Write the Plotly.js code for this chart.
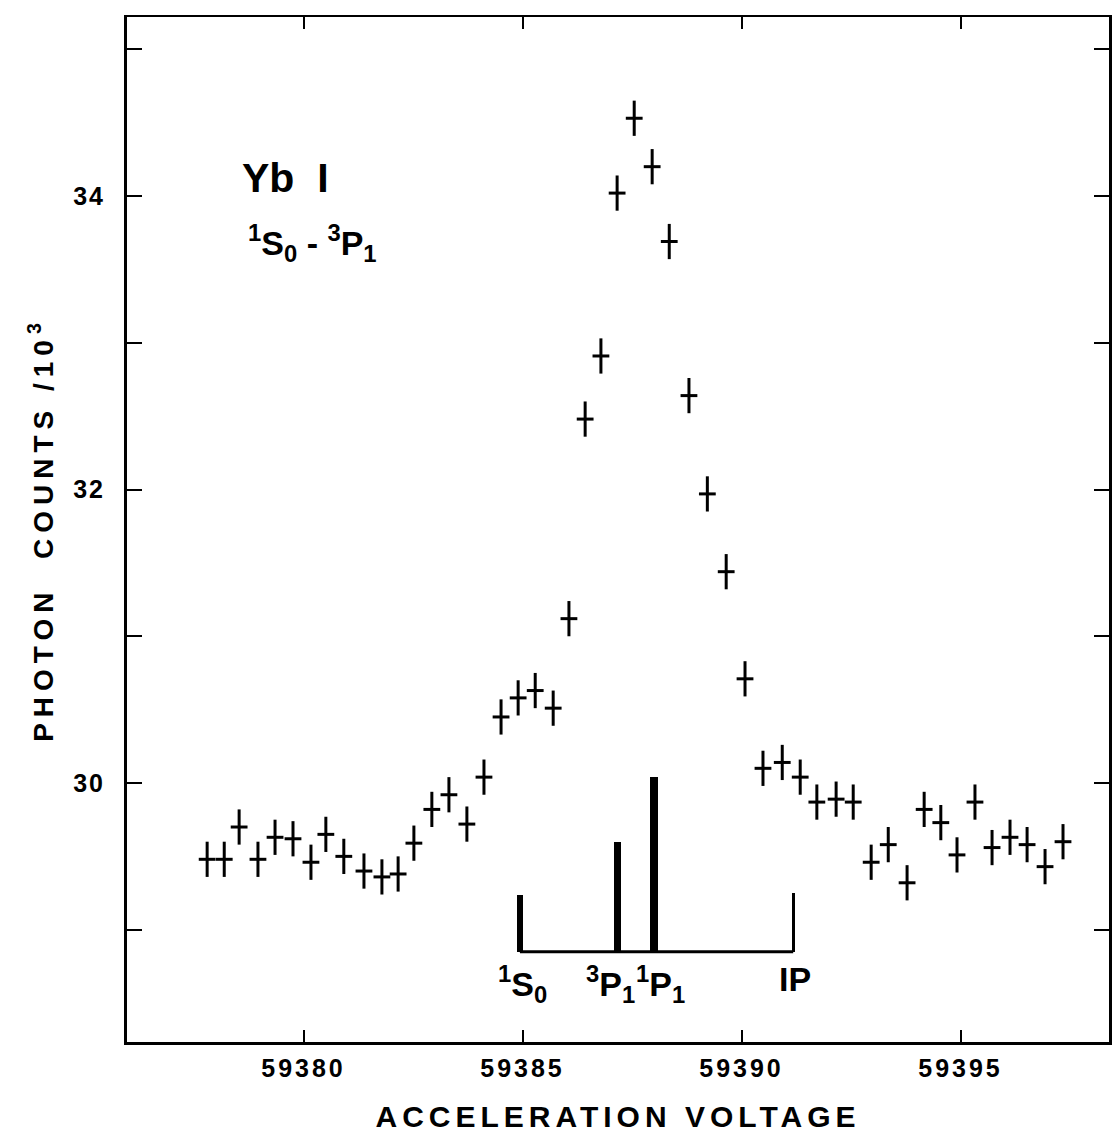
<!DOCTYPE html>
<html>
<head>
<meta charset="utf-8">
<script src="https://cdn.plot.ly/plotly-3.0.1.min.js"></script>
<style>
  html, body { margin: 0; padding: 0; background: #fff; }
  #chart { width: 1112px; height: 1136px; }
  .xtick text { letter-spacing: 3px; }
  .ytick text { letter-spacing: 2px; }
  .xtitle { letter-spacing: 5px; }
  .ytitle { letter-spacing: 6px; }
</style>
</head>
<body>
<div id="chart"></div>
<script>
// ---- data ----
const voltage = [
  59377.80, 59378.19, 59378.53, 59378.96, 59379.35, 59379.76, 59380.17, 59380.51, 59380.92, 59381.38,
  59381.79, 59382.16, 59382.52, 59382.93, 59383.32, 59383.73, 59384.12, 59384.51, 59384.90, 59385.29,
  59385.70, 59386.06, 59386.43, 59386.79, 59387.16, 59387.55, 59387.96, 59388.35, 59388.80, 59389.22,
  59389.65, 59390.08, 59390.49, 59390.93, 59391.34, 59391.72, 59392.16, 59392.55, 59392.96, 59393.35,
  59393.78, 59394.17, 59394.55, 59394.92, 59395.33, 59395.72, 59396.13, 59396.52, 59396.93, 59397.34
];
const counts = [
  29.48, 29.48, 29.70, 29.48, 29.63, 29.62, 29.46, 29.65, 29.50, 29.40,
  29.36, 29.38, 29.59, 29.82, 29.92, 29.72, 30.04, 30.45, 30.58, 30.63,
  30.51, 31.12, 32.48, 32.91, 34.02, 34.53, 34.20, 33.69, 32.64, 31.97,
  31.44, 30.71, 30.10, 30.14, 30.04, 29.87, 29.89, 29.87, 29.46, 29.58,
  29.32, 29.82, 29.73, 29.51, 29.87, 29.56, 29.63, 29.58, 29.43, 29.60
];
const countError = 0.12;

const xTickVals = [59380, 59385, 59390, 59395];
const xTickText = ['59380', '59385', '59390', '59395'];
const yTickVals = [30, 32, 34];
const yTickText = ['30', '32', '34'];

// energy-level diagram
const levelNames = ['<sup>1</sup>S<sub>0</sub>', '<sup>3</sup>P<sub>1</sub>', '<sup>1</sup>P<sub>1</sub>', 'IP'];
const levelVoltage = [59384.94, 59387.16, 59388.00, 59391.18];
const levelTop = [29.24, 29.60, 30.04, 29.25];
const levelBase = 28.85;
const levelLabelX = [59385.01, 59387.02, 59388.16, 59391.22];

// ---- styles ----
const FONT = 'Liberation Sans, Arial, Helvetica, sans-serif';
const barWidthsV = [0.137, 0.16, 0.183, 0.06];

const traces = [
  {
    type: 'scatter', mode: 'markers',
    x: voltage, y: counts,
    marker: { symbol: 'line-ew', size: 12, color: 'black', line: { width: 3, color: 'black' } },
    error_y: { type: 'constant', value: countError, thickness: 3, width: 0, color: 'black' },
    hoverinfo: 'x+y'
  },
  {
    type: 'bar',
    x: levelVoltage,
    y: levelTop.map(t => t - levelBase),
    base: levelBase,
    width: barWidthsV,
    marker: { color: 'black', line: { width: 0 } },
    hoverinfo: 'x'
  },
  {
    type: 'scatter', mode: 'lines',
    x: [levelVoltage[0], levelVoltage[levelVoltage.length - 1]],
    y: [levelBase, levelBase],
    line: { color: 'black', width: 3 },
    hoverinfo: 'skip'
  }
];

const annotations = levelNames.map((name, i) => ({
  x: levelLabelX[i], y: levelBase, xref: 'x', yref: 'y',
  text: name, showarrow: false, xanchor: 'center', yanchor: 'top', yshift: -6,
  font: { family: FONT, size: 34, weight: 'bold', color: 'black' }
}));
annotations.push({
  x: 59378.55, y: 34.12, xref: 'x', yref: 'y', text: 'Yb\u00a0\u00a0I', showarrow: false,
  xanchor: 'left', yanchor: 'middle',
  font: { family: FONT, size: 41, weight: 'bold', color: 'black' }
});
annotations.push({
  x: 59378.68, y: 33.68, xref: 'x', yref: 'y',
  text: '<sup>1</sup>S<sub>0</sub> - <sup>3</sup>P<sub>1</sub>', showarrow: false,
  xanchor: 'left', yanchor: 'middle',
  font: { family: FONT, size: 34, weight: 'bold', color: 'black' }
});

const layout = {
  width: 1112, height: 1136,
  margin: { l: 127, r: 3, t: 17, b: 94 },
  paper_bgcolor: 'white', plot_bgcolor: 'white',
  showlegend: false,
  bargap: 0,
  xaxis: {
    range: [59375.97, 59398.39],
    tickmode: 'array', tickvals: xTickVals, ticktext: xTickText,
    ticks: 'inside', ticklen: 12, tickwidth: 2, tickcolor: 'black',
    showline: true, linewidth: 2.5, linecolor: 'black', mirror: 'ticks',
    showgrid: false, zeroline: false,
    ticklabelstandoff: 2,
    tickfont: { family: FONT, size: 25, weight: 'bold', color: 'black' },
    title: { text: 'ACCELERATION VOLTAGE', standoff: 26,
             font: { family: FONT, size: 30, weight: 'bold', color: 'black' } }
  },
  yaxis: {
    range: [28.235, 35.22],
    tickmode: 'array', tickvals: yTickVals, ticktext: yTickText,
    ticks: 'inside', ticklen: 15, tickwidth: 2, tickcolor: 'black',
    minor: { dtick: 1, tick0: 29, ticks: 'inside', ticklen: 15, tickwidth: 2, tickcolor: 'black', showgrid: false },
    showline: true, linewidth: 3, linecolor: 'black', mirror: 'ticks',
    showgrid: false, zeroline: false,
    ticklabelstandoff: 14,
    tickfont: { family: FONT, size: 25, weight: 'bold', color: 'black' },
    title: { text: 'PHOTON\u00a0 COUNTS /10<sup>3</sup>', standoff: 12,
             font: { family: FONT, size: 28, weight: 'bold', color: 'black' } }
  },
  annotations: annotations
};

Plotly.newPlot('chart', traces, layout, { displayModeBar: false, staticPlot: true });
</script>
</body>
</html>
